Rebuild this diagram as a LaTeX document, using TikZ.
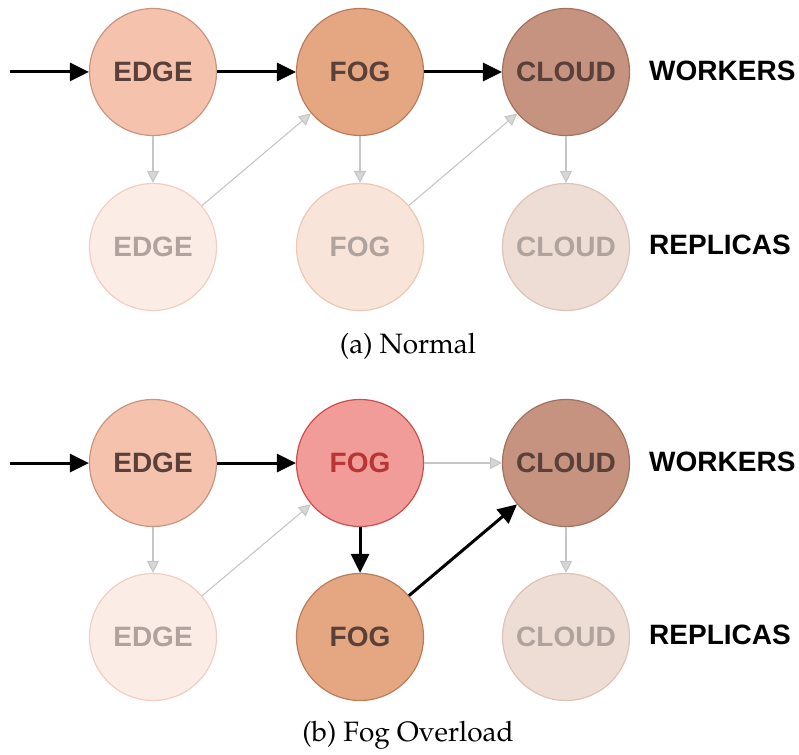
\documentclass[tikz,border=0pt]{standalone}
\usepackage{fontspec}
\newfontfamily\labelfont{Liberation Sans}
\usetikzlibrary{arrows.meta}

\definecolor{edgeW}{HTML}{F5C2AE}
\definecolor{edgeWd}{HTML}{C9957F}
\definecolor{fogW}{HTML}{E5A782}
\definecolor{fogWd}{HTML}{B97D5D}
\definecolor{cloudW}{HTML}{C79381}
\definecolor{cloudWd}{HTML}{A4715F}
\definecolor{edgeR}{HTML}{FCECE6}
\definecolor{edgeRd}{HTML}{F0CFC2}
\definecolor{fogR}{HTML}{F8E4D8}
\definecolor{fogRd}{HTML}{EBC9B5}
\definecolor{cloudR}{HTML}{EEDDD5}
\definecolor{cloudRd}{HTML}{DDC3B8}
\definecolor{hotW}{HTML}{F19C99}
\definecolor{hotWd}{HTML}{CC4F4D}
\definecolor{hotT}{HTML}{B83535}
\definecolor{darkT}{HTML}{5A4038}
\definecolor{paleT}{HTML}{B0A29D}
\definecolor{linkG}{HTML}{C6C6C6}

\tikzset{
  unit/.style={circle, minimum size=127pt, inner sep=0pt, line width=1.2pt,
    font=\labelfont\bfseries\fontsize{28}{30}\selectfont},
  worker/.style={unit, text=darkT},
  replica/.style={unit, text=paleT},
  rowlabel/.style={anchor=west, inner sep=0pt,
    font=\labelfont\bfseries\fontsize{28}{30}\selectfont},
  caption/.style={font=\fontencoding{OT1}\fontfamily{ppl}\fontsize{28}{32}\selectfont},
  flow/.style={line width=3pt,
    -{Triangle[length=19pt 0 0,width=18pt 0 0]}},
  sync/.style={draw=linkG, line width=1.1pt,
    -{Triangle[length=12pt 0 0,width=12pt 0 0,fill=linkG!70]}},
}

\begin{document}
\begin{tikzpicture}[x=1pt,y=-1pt]
  \useasboundingbox (0,0) rectangle (799,754);

  % ---------- (a) Normal ----------
  \node[worker, fill=edgeW, draw=edgeWd]    (ae)  at (153,72)  {EDGE};
  \node[worker, fill=fogW, draw=fogWd]      (af)  at (360,72)  {FOG};
  \node[worker, fill=cloudW, draw=cloudWd]  (ac)  at (566,72)  {CLOUD};
  \node[replica, fill=edgeR, draw=edgeRd]   (aer) at (153,247) {EDGE};
  \node[replica, fill=fogR, draw=fogRd]     (afr) at (360,247) {FOG};
  \node[replica, fill=cloudR, draw=cloudRd] (acr) at (566,247) {CLOUD};
  \node[rowlabel] (aw) at (649,71)  {WORKERS};
  \node[rowlabel] (ar) at (649,245) {REPLICAS};
  \coordinate (ain) at (10,72);

  \draw[flow] (ain) -- (ae);
  \draw[flow] (ae) -- (af);
  \draw[flow] (af) -- (ac);
  \draw[sync] (ae) -- (aer);
  \draw[sync] (af) -- (afr);
  \draw[sync] (ac) -- (acr);
  \draw[sync] (aer) -- (af);
  \draw[sync] (afr) -- (ac);

  \node[caption] (capa) at (408,346) {(a) Normal};

  % ---------- (b) Fog Overload ----------
  \node[worker, fill=edgeW, draw=edgeWd]    (be)  at (153,463) {EDGE};
  \node[worker, fill=hotW, draw=hotWd, text=hotT] (bf) at (360,463) {FOG};
  \node[worker, fill=cloudW, draw=cloudWd]  (bc)  at (566,463) {CLOUD};
  \node[replica, fill=edgeR, draw=edgeRd]   (ber) at (153,637) {EDGE};
  \node[worker, fill=fogW, draw=fogWd]      (bfr) at (360,637) {FOG};
  \node[replica, fill=cloudR, draw=cloudRd] (bcr) at (566,637) {CLOUD};
  \node[rowlabel] (bw) at (649,462) {WORKERS};
  \node[rowlabel] (br) at (649,635) {REPLICAS};
  \coordinate (bin) at (10,463);

  \draw[flow] (bin) -- (be);
  \draw[flow] (be) -- (bf);
  \draw[sync] (bf) -- (bc);
  \draw[flow] (bf) -- (bfr);
  \draw[flow] (bfr) -- (bc);
  \draw[sync] (be) -- (ber);
  \draw[sync] (bc) -- (bcr);
  \draw[sync] (ber) -- (bf);

  \node[caption] (capb) at (408,735) {(b) Fog Overload};
\end{tikzpicture}
\end{document}
